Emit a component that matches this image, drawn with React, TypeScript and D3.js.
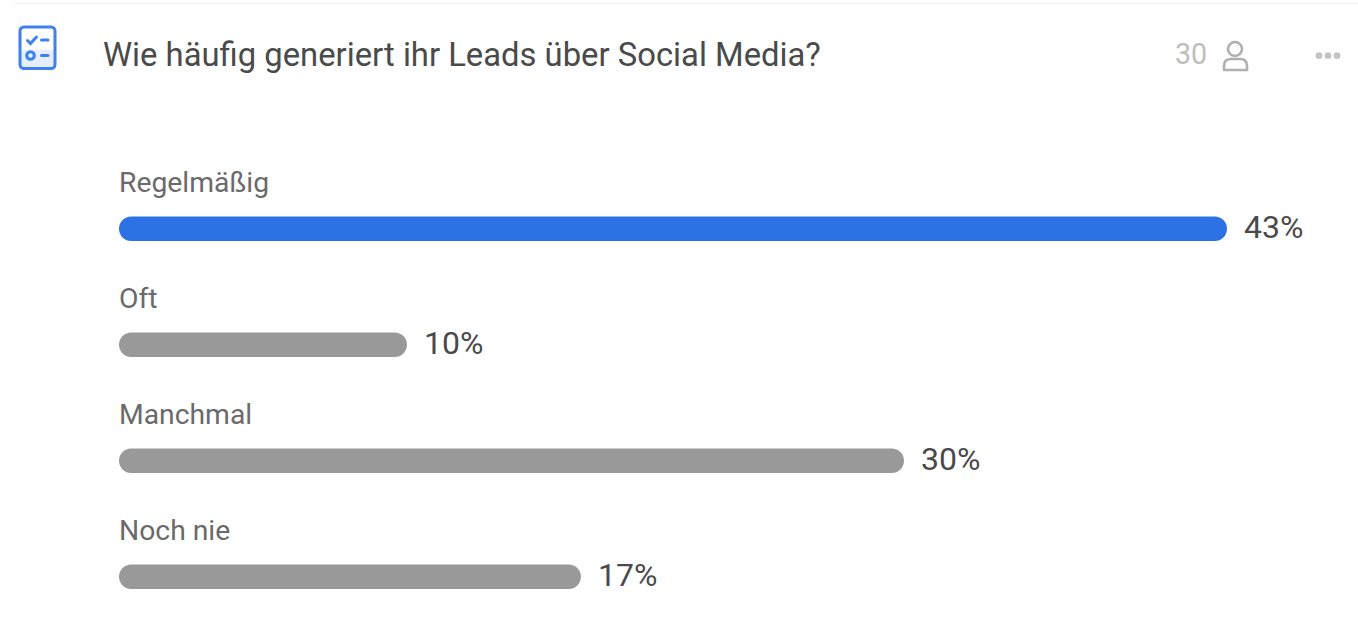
import React from "react";
import * as d3 from "d3";

const answers = ["Regelmäßig", "Oft", "Manchmal", "Noch nie"];
const shares = [43, 10, 30, 17];
const questionTitle = "Wie häufig generiert ihr Leads über Social Media?";
const respondentCount = "30";

const WIDTH = 1358;
const HEIGHT = 625;
const BAR_LEFT = 119;
const BAR_HEIGHT = 24.5;
const FONT = "Roboto, sans-serif";

export default function App() {
  // Zero sits to the right of the bar start: every bar keeps a short stub for its rounded caps.
  const x = d3.scaleLinear().domain([0, 43]).range([158.5, 1227]);
  const y = d3.scaleBand<string>().domain(answers).range([152, 616]);
  const leading = d3.max(shares)!;

  return (
    <svg
      width={WIDTH}
      height={HEIGHT}
      viewBox={`0 0 ${WIDTH} ${HEIGHT}`}
      style={{ position: "absolute", left: 0, top: 0, background: "#fff", fontFamily: FONT }}
    >
      <g opacity={0.999}>
        <line x1={13} x2={WIDTH} y1={3.5} y2={3.5} stroke="#f5f5f5" strokeWidth={1} />

        {/* Question type icon */}
        <g fill="none" stroke="#3f80ec" strokeLinecap="round">
          <path d="M20 50 L54 50 L54 62 Q54 68 48 68 L25 68 Q20 68 20 64 Z" fill="#e4eefc" stroke="none" />
          <rect x={20} y={27} width={35} height={41.5} rx={4} strokeWidth={3} />
          <path d="M27.5 40.5 L30.5 43.5 L36.5 37" strokeWidth={3} />
          <path d="M41.5 40 L48 40" strokeWidth={3} />
          <circle cx={30.5} cy={55.5} r={3.8} strokeWidth={3} />
          <path d="M41.5 55.5 L48 55.5" strokeWidth={3} />
        </g>

        <text x={103} y={66} fontSize={32.8} fill="#4a4a4a">{questionTitle}</text>

        {/* Respondent counter and menu */}
        <text x={1175} y={64} fontSize={28.7} fill="#bdbdbd">{respondentCount}</text>
        <g fill="none" stroke="#b0b0b0" strokeWidth={2.6}>
          <circle cx={1235} cy={49} r={7} />
          <path d="M1224 70 L1224 66 Q1224 59 1231 59 L1240 59 Q1247 59 1247 66 L1247 70 Z" strokeLinejoin="round" />
        </g>
        <g fill="#c4c4c4">
          {[1319, 1328, 1337].map((cx) => (
            <circle key={cx} cx={cx} cy={55.6} r={3.4} />
          ))}
        </g>

        {/* Answer rows */}
        {answers.map((answer, i) => {
          const top = y(answer)!;
          const barEnd = x(shares[i]);
          return (
            <g key={answer}>
              <text x={BAR_LEFT} y={top + 40} fontSize={28.3} fill="#6a6a6a">{answer}</text>
              <rect
                x={BAR_LEFT}
                y={top + 64.5}
                width={barEnd - BAR_LEFT}
                height={BAR_HEIGHT}
                rx={BAR_HEIGHT / 2}
                fill={shares[i] === leading ? "#2c72e4" : "#999999"}
              />
              <text x={barEnd + 17} y={top + 86} fontSize={32} fill="#4a4a4a">{`${shares[i]}%`}</text>
            </g>
          );
        })}
      </g>
    </svg>
  );
}
